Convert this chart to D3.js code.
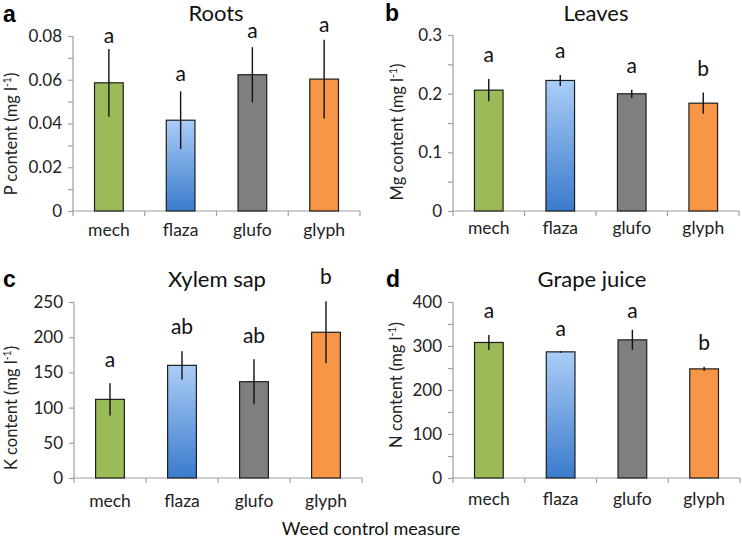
<!DOCTYPE html>
<html><head><meta charset="utf-8">
<script src="https://cdn.jsdelivr.net/npm/d3@7"></script>
<style>
body{margin:0;background:#fff;}
svg{display:block;font-family:Lato,"Open Sans",sans-serif;}
</style></head>
<body><svg id="chart" width="742" height="538"></svg>
<script>
const categories = ["mech","flaza","glufo","glyph"];
const barColors = ["#9bbb59","url(#flazaGrad)","#7f7f7f","#f79646"];

// a: Roots, P content
const rootsMean = [0.0586, 0.0415, 0.0623, 0.0603];
const rootsErr = [0.0155, 0.0132, 0.0126, 0.018];
const rootsLetters = ["a","a","a","a"];
const rootsLetterAt = [0.0766, 0.0594, 0.0789, 0.082];
const rootsTicks = [0, 0.02, 0.04, 0.06, 0.08];
const rootsTickLabels = ["0","0.02","0.04","0.06","0.08"];

// b: Leaves, Mg content
const leavesMean = [0.206, 0.2225, 0.1998, 0.1838];
const leavesErr = [0.019, 0.0095, 0.007, 0.018];
const leavesLetters = ["a","a","a","b"];
const leavesLetterAt = [0.2544, 0.260, 0.236, 0.230];
const leavesTicks = [0, 0.1, 0.2, 0.3];
const leavesTickLabels = ["0","0.1","0.2","0.3"];

// c: Xylem sap, K content
const xylemMean = [111.7, 160, 136.8, 207];
const xylemErr = [23, 20, 32, 44];
const xylemLetters = ["a","ab","ab","b"];
const xylemLetterAt = [157.7, 205, 192, 276];
const xylemTicks = [0, 50, 100, 150, 200, 250];
const xylemTickLabels = ["0","50","100","150","200","250"];

// d: Grape juice, N content
const juiceMean = [308, 286.7, 314, 248];
const juiceErr = [17, 2, 23, 5];
const juiceLetters = ["a","a","a","b"];
const juiceLetterAt = [363.5, 323, 363.5, 291];
const juiceTicks = [0, 100, 200, 300, 400];
const juiceTickLabels = ["0","100","200","300","400"];

const panels = [
  {tag:"a", title:"Roots", el:"P", mean:rootsMean, err:rootsErr, letters:rootsLetters, letterAt:rootsLetterAt,
   ticks:rootsTicks, tickLabels:rootsTickLabels, minor:true,
   x0:73, x1:360, yTop:36, yBot:211, tagX:3, tagY:22, titleX:216, titleY:21, ylabX:17, ylabY:134, xlabOff:25},
  {tag:"b", title:"Leaves", el:"Mg", mean:leavesMean, err:leavesErr, letters:leavesLetters, letterAt:leavesLetterAt,
   ticks:leavesTicks, tickLabels:leavesTickLabels, minor:true,
   x0:453, x1:739, yTop:35, yBot:211, tagX:385, tagY:21, titleX:596, titleY:21, ylabX:403, ylabY:132, xlabOff:23},
  {tag:"c", title:"Xylem sap", el:"K", mean:xylemMean, err:xylemErr, letters:xylemLetters, letterAt:xylemLetterAt,
   ticks:xylemTicks, tickLabels:xylemTickLabels, minor:false,
   x0:74, x1:362, yTop:302, yBot:478, tagX:3, tagY:287, titleX:217, titleY:287, ylabX:17, ylabY:408, xlabOff:29},
  {tag:"d", title:"Grape juice", el:"N", mean:juiceMean, err:juiceErr, letters:juiceLetters, letterAt:juiceLetterAt,
   ticks:juiceTicks, tickLabels:juiceTickLabels, minor:true,
   x0:453, x1:740, yTop:302, yBot:478, tagX:386, tagY:287, titleX:592, titleY:287, ylabX:402, ylabY:385, xlabOff:27}
];

const svg = d3.select("#chart");
const defs = svg.append("defs");
const grad = defs.append("linearGradient").attr("id","flazaGrad")
  .attr("x1","0").attr("y1","0").attr("x2","0").attr("y2","1");
grad.append("stop").attr("offset","0%").attr("stop-color","#aacdf7");
grad.append("stop").attr("offset","100%").attr("stop-color","#3a7bcc");

const axisColor = "#a0a0a0";

panels.forEach(p => {
  const g = svg.append("g");
  const x = d3.scaleBand().domain(categories).range([p.x0, p.x1]).paddingInner(0).paddingOuter(0);
  const yMax = p.ticks[p.ticks.length-1];
  const y = d3.scaleLinear().domain([0, yMax]).range([p.yBot, p.yTop]);

  // y axis
  const step = p.ticks[1]-p.ticks[0];
  const allTicks = [];
  p.ticks.forEach((t,i)=>{ allTicks.push(t); if(p.minor && i<p.ticks.length-1) allTicks.push(t+step/2); });
  const yAxis = d3.axisLeft(y).tickValues(allTicks).tickSize(5).tickFormat(d => {
    const i = p.ticks.findIndex(t => Math.abs(t-d) < 1e-9);
    return i >= 0 ? p.tickLabels[i] : "";
  });
  const ya = g.append("g").attr("transform",`translate(${p.x0},0)`).call(yAxis);
  ya.select(".domain").attr("stroke",axisColor).attr("stroke-width",1.2).attr("d",`M-5,${p.yTop+0.5}H0V${p.yBot}`);
  ya.selectAll(".tick line").attr("stroke",axisColor).attr("stroke-width",1.2);
  ya.selectAll(".tick text").attr("x",-11).attr("font-size",17).attr("fill","#222").attr("font-family","Lato");

  // x axis
  const xa = g.append("g").attr("transform",`translate(0,${p.yBot})`)
    .call(d3.axisBottom(x).tickSize(0).tickPadding(0));
  xa.select(".domain").attr("stroke",axisColor).attr("stroke-width",1.2).attr("d",`M${p.x0},0H${p.x1}`);
  xa.selectAll(".tick line").remove();
  xa.selectAll(".tick text").attr("y",p.xlabOff).attr("dy",null).attr("font-size",17.5)
    .attr("fill","#222").attr("font-family","Lato");
  const bounds = categories.map(c => x(c)).concat([p.x1]);
  g.selectAll(".xb").data(bounds).enter().append("line")
    .attr("x1",d=>d).attr("x2",d=>d).attr("y1",p.yBot).attr("y2",p.yBot+5)
    .attr("stroke",axisColor).attr("stroke-width",1.2);

  // bars
  const bw = x.bandwidth()*0.4;
  g.selectAll(".bar").data(p.mean).enter().append("rect")
    .attr("x",(d,i)=>x(categories[i])+x.bandwidth()/2-bw/2)
    .attr("y",d=>y(d)).attr("width",bw).attr("height",d=>p.yBot-y(d))
    .attr("fill",(d,i)=>barColors[i]).attr("stroke","#1e1e1e").attr("stroke-width",1.2);

  // error bars
  g.selectAll(".err").data(p.mean).enter().append("line")
    .attr("x1",(d,i)=>x(categories[i])+x.bandwidth()/2).attr("x2",(d,i)=>x(categories[i])+x.bandwidth()/2)
    .attr("y1",(d,i)=>y(d+p.err[i])).attr("y2",(d,i)=>y(d-p.err[i]))
    .attr("stroke","#111").attr("stroke-width",1.4);

  // significance letters
  g.selectAll(".let").data(p.letters).enter().append("text")
    .attr("x",(d,i)=>x(categories[i])+x.bandwidth()/2).attr("y",(d,i)=>y(p.letterAt[i]))
    .attr("text-anchor","middle").attr("font-size",21).attr("fill","#111").text(d=>d);

  // title
  g.append("text").attr("x",p.titleX).attr("y",p.titleY).attr("text-anchor","middle")
    .attr("font-size",22).attr("fill","#111").text(p.title);
  // panel tag
  g.append("text").attr("x",p.tagX).attr("y",p.tagY).attr("font-family","Arial, 'Liberation Sans', sans-serif")
    .attr("font-weight","bold").attr("font-size",23).attr("fill","#000").text(p.tag);
  // y label
  const yl = g.append("text").attr("transform",`translate(${p.ylabX},${p.ylabY}) rotate(-90)`)
    .attr("text-anchor","middle").attr("font-size",16.5).attr("fill","#222");
  yl.append("tspan").text(`${p.el} content (mg l`);
  yl.append("tspan").attr("font-size",10.5).attr("dy",-6).text("-1");
  yl.append("tspan").attr("dy",6).text(")");
});

svg.append("text").attr("x",371).attr("y",535).attr("text-anchor","middle")
  .attr("font-size",18).attr("fill","#111").text("Weed control measure");
</script></body></html>
